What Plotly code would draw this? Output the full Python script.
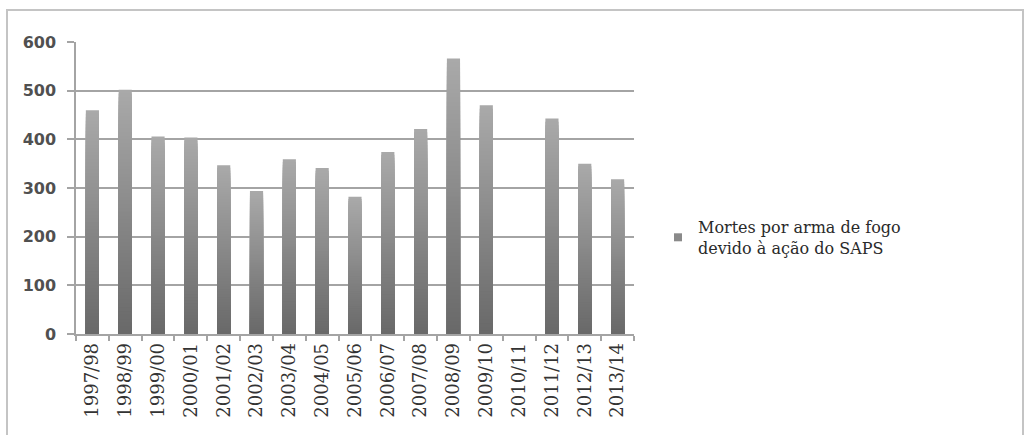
import plotly.graph_objects as go

# Mortes por arma de fogo devido à ação do SAPS, por ano fiscal
periods = ["1997/98", "1998/99", "1999/00", "2000/01", "2001/02", "2002/03",
           "2003/04", "2004/05", "2005/06", "2006/07", "2007/08", "2008/09",
           "2009/10", "2010/11", "2011/12", "2012/13", "2013/14"]
deaths = [460, 502, 406, 404, 347, 294, 359, 341, 282, 374, 421, 566,
          470, None, 443, 350, 318]
y_ticks = [0, 100, 200, 300, 400, 500, 600]
series_name = "Mortes por arma de fogo<br>devido à ação do SAPS"

W, H = 1025, 435
L, R, T, B = 76, 391, 42, 101
plot_w = W - L - R
plot_h = H - T - B


def px_x(p):
    return (p - L) / plot_w


def px_y(p):
    return (H - B - p) / plot_h


def lerp_grey(lo, hi, t):
    v = round(lo + (hi - lo) * t)
    return f"rgb({v},{v},{v})"


fig = go.Figure()

# Vertical grey gradient on every bar: overlaid bars of shrinking height,
# each one a little darker, so the top stays light and the base dark.
steps = 64
top_grey, base_grey = 170, 104
for k in range(steps):
    frac = (steps - k) / steps
    mid = frac - 0.5 / steps
    fig.add_trace(go.Bar(
        x=periods,
        y=[None if v is None else v * frac for v in deaths],
        marker=dict(color=lerp_grey(base_grey, top_grey, mid), line=dict(width=0)),
        showlegend=False,
        hoverinfo="skip" if k else None,
        hovertemplate="%{x}: %{y}<extra></extra>" if k == 0 else None,
    ))

# Legend entry for the series
fig.add_trace(go.Scatter(
    x=[None], y=[None], mode="markers", name=series_name,
    marker=dict(symbol="square", size=8, color="#8a8a8a"),
    showlegend=True,
))

axis_grey = "#a4a4a4"

fig.update_layout(
    width=W, height=H,
    margin=dict(l=L, r=R, t=T, b=B, pad=0),
    paper_bgcolor="white",
    plot_bgcolor="white",
    barmode="overlay",
    bargap=0.6,
    showlegend=True,
    legend=dict(
        x=px_x(658), y=px_y(210), xanchor="left", yanchor="top",
        font=dict(family="DejaVu Serif", size=16, color="#2a2a2a"),
        bgcolor="rgba(0,0,0,0)", itemwidth=30,
    ),
    xaxis=dict(
        type="category",
        tickangle=-90,
        tickson="boundaries",
        ticks="outside", ticklen=5, tickcolor=axis_grey, tickwidth=1.5,
        showline=True, linecolor=axis_grey, linewidth=1.5,
        showgrid=False,
        tickfont=dict(family="DejaVu Serif", size=18, color="#333333"),
    ),
    yaxis=dict(
        range=[0, 600],
        tickvals=y_ticks,
        ticks="outside", ticklen=7, tickcolor=axis_grey, tickwidth=1.5,
        showline=True, linecolor=axis_grey, linewidth=1.5,
        showgrid=True, gridcolor=axis_grey, gridwidth=1.5,
        zeroline=False,
        tickfont=dict(family="DejaVu Sans", size=16, color="#505050", weight="bold"),
        ticklabelstandoff=8,
    ),
    shapes=[dict(
        type="rect", xref="paper", yref="paper",
        x0=px_x(7), x1=px_x(1023), y0=px_y(445), y1=px_y(10),
        line=dict(color="#c4c4c4", width=2), fillcolor="rgba(0,0,0,0)",
        layer="below",
    )],
)

fig.write_html("out.html")
